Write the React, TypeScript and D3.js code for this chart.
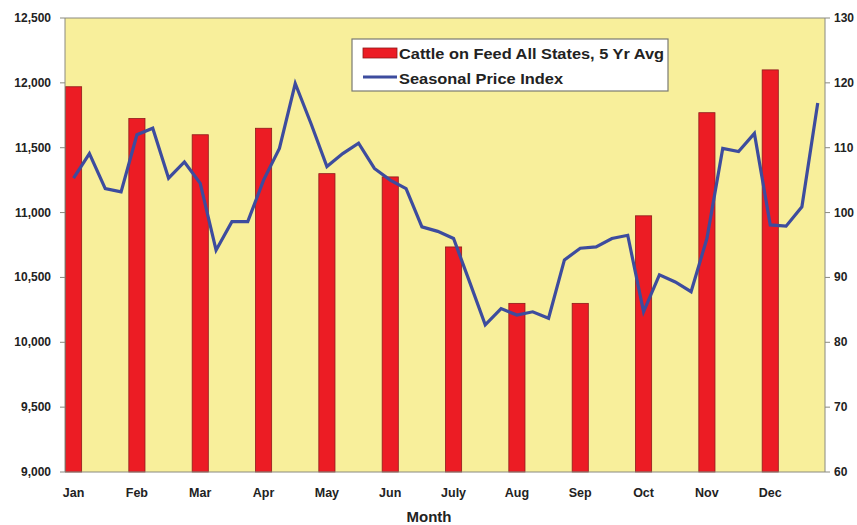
import React, { useEffect, useRef } from "react";
import * as d3 from "d3";

const months = ["Jan", "Feb", "Mar", "Apr", "May", "Jun", "July", "Aug", "Sep", "Oct", "Nov", "Dec"];
const cattleOnFeed = [11970, 11725, 11600, 11650, 11300, 11275, 10735, 10300, 10300, 10975, 11770, 12100];
// four readings per month
const priceIndex = [
  105.3, 109.1, 103.7, 103.2,
  112.0, 113.0, 105.3, 107.8,
  104.5, 94.2, 98.6, 98.6,
  105.0, 109.9, 119.9, 113.7,
  107.1, 109.1, 110.7, 106.8,
  105.0, 103.7, 97.8, 97.1,
  96.0, 89.4, 82.7, 85.2,
  84.2, 84.7, 83.7, 92.7,
  94.5, 94.7, 96.0, 96.5,
  84.7, 90.4, 89.3, 87.8,
  96.0, 109.9, 109.4, 112.2,
  98.1, 97.9, 100.9, 116.9,
];
const leftTicks = [9000, 9500, 10000, 10500, 11000, 11500, 12000, 12500];
const rightTicks = [60, 70, 80, 90, 100, 110, 120, 130];
const legendLabels = ["Cattle on Feed All States, 5 Yr Avg", "Seasonal Price Index"];

const W = 857;
const H = 525;
const M = { left: 65, right: 32, top: 18, bottom: 53 };
const FONT = "'Liberation Sans', Arial, sans-serif";

export default function App() {
  const ref = useRef<SVGSVGElement | null>(null);

  useEffect(() => {
    document.body.style.margin = "0";
    const svg = d3.select(ref.current);
    svg.selectAll("*").remove();

    const x0 = M.left, x1 = W - M.right, y0 = M.top, y1 = H - M.bottom;
    const x = d3.scaleBand<string>().domain(months).range([x0, x1]).paddingInner(0).paddingOuter(0);
    const yL = d3.scaleLinear().domain([9000, 12500]).range([y1, y0]);
    const yR = d3.scaleLinear().domain([60, 130]).range([y1, y0]);
    const barW = x.step() * 0.255;

    // plot background
    svg.append("rect").attr("x", x0).attr("y", y0).attr("width", x1 - x0).attr("height", y1 - y0)
      .attr("fill", "#F8EF9B");

    // bars
    svg.append("g").selectAll("rect").data(cattleOnFeed).join("rect")
      .attr("x", (_d, i) => (x(months[i]) as number) + 0.5)
      .attr("y", (d) => yL(d))
      .attr("width", barW)
      .attr("height", (d) => y1 - yL(d))
      .attr("fill", "#EC1C24")
      .attr("stroke", "#8E1B1B")
      .attr("stroke-width", 0.8);

    // line
    const px = (i: number) => {
      const m = Math.floor(i / 4);
      const k = i % 4;
      return (x(months[m]) as number) + 0.5 + barW / 2 + (k * x.step()) / 4;
    };
    const line = d3.line<number>().x((_d, i) => px(i)).y((d) => yR(d));
    svg.append("path").datum(priceIndex).attr("d", line)
      .attr("fill", "none").attr("stroke", "#3D4C9E").attr("stroke-width", 3.2)
      .attr("stroke-linejoin", "miter");

    // frame
    svg.append("path")
      .attr("d", `M${x0},${y0}H${x1}V${y1}H${x0}Z`)
      .attr("fill", "none").attr("stroke", "#8a8a80").attr("stroke-width", 1);

    // left axis
    const gl = svg.append("g").attr("transform", `translate(${x0},0)`);
    gl.selectAll("line").data(leftTicks).join("line")
      .attr("x1", -5).attr("x2", 0).attr("y1", (d) => yL(d)).attr("y2", (d) => yL(d))
      .attr("stroke", "#8a8a80");
    gl.selectAll("text").data(leftTicks).join("text")
      .attr("x", -14).attr("y", (d) => yL(d) + 4)
      .attr("text-anchor", "end")
      .attr("font-family", FONT).attr("font-weight", "bold").attr("font-size", 12)
      .attr("fill", "#222")
      .text((d) => d3.format(",")(d));

    // right axis
    const gr = svg.append("g").attr("transform", `translate(${x1},0)`);
    gr.selectAll("line").data(rightTicks).join("line")
      .attr("x1", 0).attr("x2", 5).attr("y1", (d) => yR(d)).attr("y2", (d) => yR(d))
      .attr("stroke", "#8a8a80");
    gr.selectAll("text").data(rightTicks).join("text")
      .attr("x", 9).attr("y", (d) => yR(d) + 4)
      .attr("font-family", FONT).attr("font-weight", "bold").attr("font-size", 12)
      .attr("fill", "#222")
      .text((d) => String(d));

    // month labels
    svg.append("g").selectAll("text").data(months).join("text")
      .attr("x", (d) => (x(d) as number) + 0.5 + barW / 2)
      .attr("y", y1 + 25)
      .attr("text-anchor", "middle")
      .attr("font-family", FONT).attr("font-weight", "bold").attr("font-size", 12.5)
      .attr("fill", "#222")
      .text((d) => d);

    svg.append("text").attr("x", 429).attr("y", H - 3)
      .attr("text-anchor", "middle")
      .attr("font-family", FONT).attr("font-weight", "bold").attr("font-size", 15)
      .attr("fill", "#222").text("Month");

    // legend
    const lg = svg.append("g").attr("transform", "translate(352,39)");
    lg.append("rect").attr("x", 0).attr("y", 0).attr("width", 316).attr("height", 52)
      .attr("fill", "#fff").attr("stroke", "#7a7a72").attr("stroke-width", 1.2);
    lg.append("rect").attr("x", 11).attr("y", 9).attr("width", 34).attr("height", 10)
      .attr("fill", "#EC1C24").attr("stroke", "#8E1B1B").attr("stroke-width", 0.8);
    lg.append("line").attr("x1", 11).attr("x2", 45).attr("y1", 38).attr("y2", 38)
      .attr("stroke", "#3D4C9E").attr("stroke-width", 3);
    const legendLengths = [265, 164];
    lg.selectAll("text").data(legendLabels).join("text")
      .attr("x", 47).attr("y", (_d, i) => 19.5 + i * 25)
      .attr("font-family", FONT).attr("font-weight", "bold").attr("font-size", 14.5)
      .attr("textLength", (_d, i) => legendLengths[i])
      .attr("lengthAdjust", "spacingAndGlyphs")
      .attr("fill", "#222")
      .text((d) => d);
  }, []);

  return (
    <div style={{ position: "absolute", left: 0, top: 0 }}>
      <svg ref={ref} width={W} height={H} style={{ display: "block", background: "#fff" }} />
    </div>
  );
}
